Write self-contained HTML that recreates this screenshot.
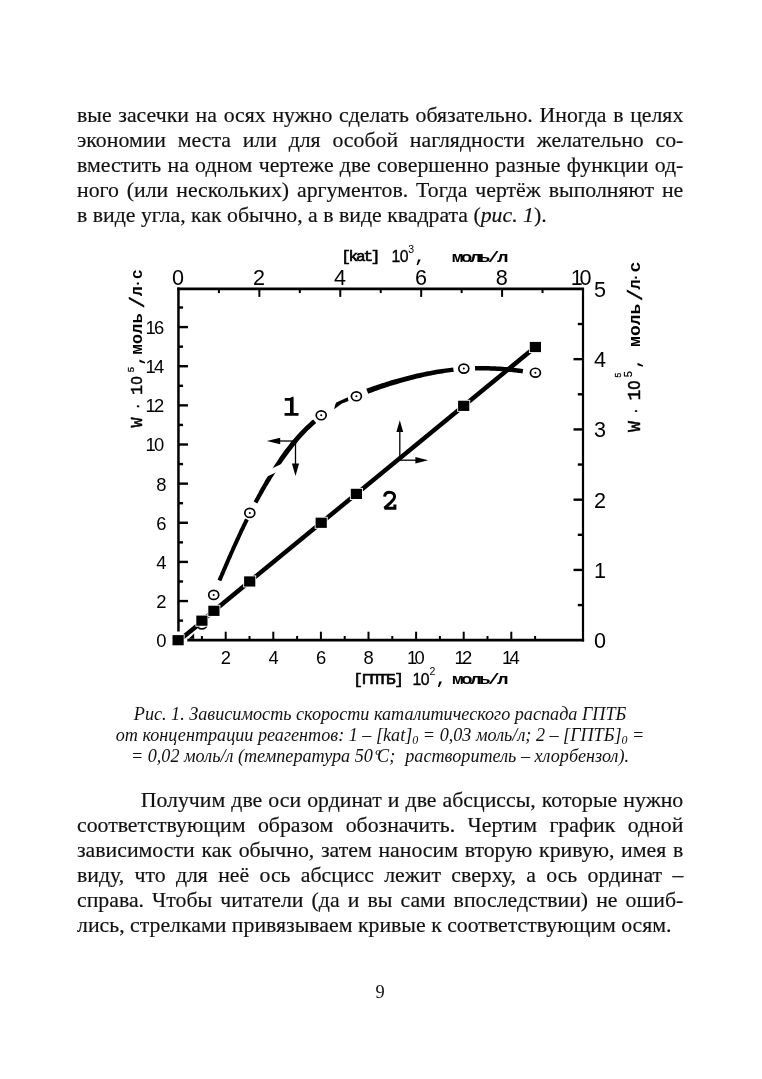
<!DOCTYPE html>
<html lang="ru">
<head>
<meta charset="utf-8">
<title>page 9</title>
<style>
html,body{margin:0;padding:0;background:#fff;}
body>*{will-change:transform;}
body{width:762px;height:1079px;position:relative;overflow:hidden;font-family:"Liberation Serif",serif;color:#111;}
.p{position:absolute;left:76.8px;width:606.3px;-webkit-text-stroke:0.18px #111;font-size:21.8px;line-height:25.07px;}
.p div{height:25.07px;white-space:nowrap;text-align:justify;text-align-last:justify;}
.p div.l{text-align-last:left;}
.cap{position:absolute;left:60px;width:640px;font-size:18.17px;line-height:20.9px;font-style:italic;text-align:center;}
.cap div{height:20.9px;white-space:nowrap;}
.cap sub{font-size:12px;vertical-align:baseline;position:relative;top:3px;}
.pn{position:absolute;left:340px;width:80px;text-align:center;font-size:18.4px;line-height:22px;top:980.5px;}
svg{position:absolute;left:0;top:0;}
</style>
</head>
<body>
<div class="p" style="top:103.0px">
<div>вые засечки на осях нужно сделать обязательно. Иногда в целях</div>
<div>экономии места или для особой наглядности желательно со-</div>
<div>вместить на одном чертеже две совершенно разные функции од-</div>
<div>ного (или нескольких) аргументов. Тогда чертёж выполняют не</div>
<div class="l">в виде угла, как обычно, а в виде квадрата (<i>рис. 1</i>).</div>
</div>

<svg id="chart" width="762" height="1079" viewBox="0 0 762 1079">
<g fill="none" stroke="#000" stroke-linecap="butt">
<path stroke-width="2.5" d="M178.45 631.60 V287.55"/>
<path stroke-width="2.7" d="M177.20 288.90 H584.10"/>
<path stroke-width="2.2" d="M583.00 288.90 V641.60"/>
<path stroke-width="2.8" d="M584.10 640.20 H187.30"/>
</g>
<g stroke="#000" stroke-width="2.4">
<path d="M178.45 620.63h4.60"/>
<path d="M178.45 601.06h9.50"/>
<path d="M178.45 581.49h4.60"/>
<path d="M178.45 561.92h9.50"/>
<path d="M178.45 542.35h4.60"/>
<path d="M178.45 522.78h9.50"/>
<path d="M178.45 503.21h4.60"/>
<path d="M178.45 483.64h9.50"/>
<path d="M178.45 464.07h4.60"/>
<path d="M178.45 444.50h9.50"/>
<path d="M178.45 424.93h4.60"/>
<path d="M178.45 405.36h9.50"/>
<path d="M178.45 385.79h4.60"/>
<path d="M178.45 366.22h9.50"/>
<path d="M178.45 346.65h4.60"/>
<path d="M178.45 327.08h9.50"/>
<path d="M178.45 307.51h4.60"/>
<path d="M583.00 605.07h-5.20"/>
<path d="M583.00 569.94h-9.50"/>
<path d="M583.00 534.81h-5.20"/>
<path d="M583.00 499.68h-9.50"/>
<path d="M583.00 464.55h-5.20"/>
<path d="M583.00 429.42h-9.50"/>
<path d="M583.00 394.29h-5.20"/>
<path d="M583.00 359.16h-9.50"/>
<path d="M583.00 324.03h-5.20"/>
</g>
<g stroke="#000" stroke-width="2.0">
<path d="M201.90 640.20v-4.20"/>
<path d="M225.70 640.20v-8.50"/>
<path d="M249.50 640.20v-4.20"/>
<path d="M273.30 640.20v-8.50"/>
<path d="M297.10 640.20v-4.20"/>
<path d="M320.90 640.20v-8.50"/>
<path d="M344.70 640.20v-4.20"/>
<path d="M368.50 640.20v-8.50"/>
<path d="M392.30 640.20v-4.20"/>
<path d="M416.10 640.20v-8.50"/>
<path d="M439.90 640.20v-4.20"/>
<path d="M463.70 640.20v-8.50"/>
<path d="M487.50 640.20v-4.20"/>
<path d="M511.30 640.20v-8.50"/>
<path d="M535.10 640.20v-4.20"/>
<path d="M218.90 288.90v4.20"/>
<path d="M259.36 288.90v8.00"/>
<path d="M299.81 288.90v4.20"/>
<path d="M340.27 288.90v8.00"/>
<path d="M380.72 288.90v4.20"/>
<path d="M421.18 288.90v8.00"/>
<path d="M461.63 288.90v4.20"/>
<path d="M502.09 288.90v8.00"/>
<path d="M542.54 288.90v4.20"/>
</g>
<g font-family="'Liberation Sans',sans-serif" fill="#000">
<g font-size="18.4" text-anchor="start" letter-spacing="-1.7">
<text x="156.2" y="647.1">0</text>
<text x="156.2" y="608.0">2</text>
<text x="156.2" y="568.8">4</text>
<text x="156.2" y="529.7">6</text>
<text x="156.2" y="490.5">8</text>
<text x="145.5" y="451.4">10</text>
<text x="145.5" y="412.3">12</text>
<text x="145.5" y="373.1">14</text>
<text x="145.5" y="334.0">16</text>
</g>
<g font-size="18.4" text-anchor="start" letter-spacing="-2.7">
<text x="220.8" y="663.5">2</text>
<text x="268.4" y="663.5">4</text>
<text x="316.0" y="663.5">6</text>
<text x="363.6" y="663.5">8</text>
<text x="406.9" y="663.5">10</text>
<text x="454.5" y="663.5">12</text>
<text x="502.1" y="663.5">14</text>
</g>
<g font-size="21.6" text-anchor="start" letter-spacing="-3.2">
<text x="172.1" y="285.0">0</text>
<text x="253.1" y="285.0">2</text>
<text x="334.0" y="285.0">4</text>
<text x="414.9" y="285.0">6</text>
<text x="495.8" y="285.0">8</text>
<text x="570.8" y="285.0">10</text>
</g>
<g font-size="21.6" text-anchor="start">
<text x="594.1" y="648.1">0</text>
<text x="594.1" y="577.8">1</text>
<text x="594.1" y="507.6">2</text>
<text x="594.1" y="437.3">3</text>
<text x="594.1" y="367.1">4</text>
<text x="594.1" y="296.8">5</text>
</g>
</g>
<path fill="#000" d="M221.3 581.3 L221.8 580.0 L222.4 578.7 L223.0 577.3 L223.5 576.0 L224.1 574.7 L224.7 573.4 L225.2 572.0 L225.8 570.7 L226.4 569.4 L227.0 568.0 L227.5 566.7 L228.1 565.4 L228.7 564.0 L229.3 562.7 L229.8 561.4 L230.4 560.1 L231.0 558.7 L231.6 557.4 L232.2 556.1 L232.7 554.8 L233.3 553.4 L233.9 552.1 L234.5 550.8 L235.1 549.5 L235.7 548.1 L236.3 546.8 L236.9 545.5 L237.5 544.2 L238.1 542.9 L238.7 541.5 L239.3 540.2 L239.9 538.9 L240.5 537.6 L241.1 536.3 L241.7 535.0 L242.3 533.7 L242.9 532.3 L243.5 531.0 L244.2 529.7 L244.8 528.4 L245.4 527.1 L246.0 525.8 L246.7 524.5 L247.3 523.2 L247.9 521.9 L248.6 520.6 L248.8 520.2 L245.2 518.4 L245.0 518.8 L244.3 520.1 L243.7 521.4 L243.1 522.8 L242.4 524.1 L241.8 525.4 L241.2 526.7 L240.5 528.0 L239.9 529.3 L239.3 530.6 L238.7 532.0 L238.1 533.3 L237.5 534.6 L236.9 535.9 L236.2 537.2 L235.6 538.6 L235.0 539.9 L234.4 541.2 L233.8 542.5 L233.2 543.9 L232.6 545.2 L232.0 546.5 L231.4 547.8 L230.9 549.2 L230.3 550.5 L229.7 551.8 L229.1 553.1 L228.5 554.5 L227.9 555.8 L227.3 557.1 L226.7 558.5 L226.2 559.8 L225.6 561.1 L225.0 562.5 L224.4 563.8 L223.9 565.1 L223.3 566.5 L222.7 567.8 L222.1 569.1 L221.6 570.4 L221.0 571.8 L220.4 573.1 L219.9 574.4 L219.3 575.8 L218.7 577.1 L218.1 578.4 L217.6 579.8Z"/>
<path fill="#000" d="M257.4 503.4 L258.5 501.3 L259.7 499.2 L260.9 497.1 L262.0 495.0 L263.2 492.9 L264.4 490.8 L265.6 488.7 L266.8 486.6 L268.1 484.5 L269.3 482.4 L270.6 480.4 L271.8 478.3 L273.1 476.3 L274.4 474.2 L275.7 472.2 L277.0 470.2 L278.3 468.1 L279.7 466.1 L281.0 464.1 L282.4 462.1 L283.7 460.1 L285.1 458.2 L286.5 456.2 L288.0 454.3 L289.4 452.3 L290.8 450.4 L292.3 448.5 L293.8 446.6 L295.3 444.8 L296.8 442.9 L298.3 441.1 L299.8 439.3 L301.4 437.5 L303.0 435.8 L304.6 434.0 L306.3 432.3 L307.9 430.6 L309.6 429.0 L311.3 427.4 L313.0 425.8 L314.8 424.2 L316.2 423.0 L313.2 419.4 L311.7 420.6 L309.9 422.2 L308.1 423.9 L306.3 425.5 L304.5 427.2 L302.8 428.9 L301.1 430.7 L299.4 432.4 L297.8 434.2 L296.2 436.1 L294.5 437.9 L293.0 439.8 L291.4 441.6 L289.9 443.5 L288.4 445.5 L286.9 447.4 L285.4 449.3 L283.9 451.3 L282.5 453.3 L281.1 455.3 L279.7 457.3 L278.3 459.4 L277.0 461.4 L275.6 463.5 L274.3 465.5 L273.0 467.6 L271.7 469.7 L270.4 471.8 L269.2 473.8 L267.9 475.9 L266.7 478.0 L265.4 480.1 L264.2 482.3 L263.0 484.4 L261.8 486.5 L260.6 488.6 L259.4 490.7 L258.3 492.9 L257.1 495.0 L256.0 497.2 L254.8 499.3 L253.7 501.5Z"/>
<path fill="#000" d="M368.2 393.8 L370.0 393.1 L371.8 392.4 L373.6 391.7 L375.4 391.1 L377.2 390.4 L379.1 389.8 L380.9 389.1 L382.7 388.5 L384.6 387.9 L386.4 387.3 L388.2 386.7 L390.1 386.1 L391.9 385.6 L393.8 385.0 L395.6 384.4 L397.5 383.9 L399.4 383.3 L401.2 382.8 L403.1 382.3 L404.9 381.7 L406.8 381.2 L408.7 380.7 L410.5 380.2 L412.4 379.7 L414.3 379.2 L416.1 378.8 L418.0 378.3 L419.9 377.9 L421.7 377.4 L423.6 377.0 L425.5 376.6 L427.3 376.2 L429.2 375.8 L431.1 375.4 L433.0 375.0 L434.8 374.7 L436.7 374.3 L438.6 374.0 L440.5 373.7 L442.4 373.4 L444.2 373.1 L446.1 372.8 L448.0 372.6 L449.9 372.3 L451.8 372.1 L453.7 371.9 L453.2 367.5 L451.3 367.7 L449.4 367.9 L447.5 368.2 L445.5 368.4 L443.6 368.7 L441.7 368.9 L439.8 369.2 L437.9 369.5 L435.9 369.8 L434.0 370.2 L432.1 370.5 L430.2 370.9 L428.3 371.2 L426.4 371.6 L424.5 372.0 L422.6 372.4 L420.7 372.8 L418.8 373.2 L416.9 373.6 L415.0 374.1 L413.1 374.5 L411.2 375.0 L409.3 375.5 L407.4 375.9 L405.5 376.4 L403.6 376.9 L401.8 377.4 L399.9 377.9 L398.0 378.5 L396.1 379.0 L394.2 379.5 L392.3 380.1 L390.4 380.6 L388.6 381.2 L386.7 381.8 L384.8 382.4 L382.9 383.0 L381.1 383.6 L379.2 384.2 L377.3 384.8 L375.5 385.5 L373.6 386.1 L371.8 386.8 L369.9 387.5 L368.1 388.1 L366.3 388.8Z"/>
<path fill="#000" d="M475.1 370.6 L476.1 370.6 L477.0 370.6 L478.0 370.5 L478.9 370.5 L479.9 370.5 L480.8 370.5 L481.8 370.5 L482.7 370.5 L483.7 370.5 L484.7 370.5 L485.6 370.5 L486.6 370.6 L487.5 370.6 L488.5 370.6 L489.4 370.6 L490.4 370.7 L491.4 370.7 L492.3 370.7 L493.3 370.8 L494.2 370.8 L495.2 370.8 L496.2 370.9 L497.1 370.9 L498.1 371.0 L499.0 371.1 L500.0 371.1 L500.9 371.2 L501.9 371.2 L502.9 371.3 L503.8 371.4 L504.8 371.5 L505.7 371.5 L506.7 371.6 L507.7 371.7 L508.6 371.8 L509.6 371.9 L510.5 372.0 L511.5 372.1 L512.5 372.2 L513.4 372.3 L514.4 372.4 L515.3 372.5 L516.3 372.6 L517.3 372.7 L518.2 372.9 L519.2 373.0 L520.1 373.1 L521.1 373.2 L522.1 373.4 L522.5 373.4 L523.2 369.0 L522.7 368.9 L521.7 368.8 L520.7 368.7 L519.8 368.5 L518.8 368.4 L517.8 368.3 L516.8 368.2 L515.9 368.0 L514.9 367.9 L513.9 367.8 L512.9 367.7 L512.0 367.6 L511.0 367.5 L510.0 367.4 L509.0 367.3 L508.1 367.2 L507.1 367.1 L506.1 367.1 L505.1 367.0 L504.2 366.9 L503.2 366.8 L502.2 366.8 L501.3 366.7 L500.3 366.6 L499.3 366.6 L498.3 366.5 L497.4 366.4 L496.4 366.4 L495.4 366.3 L494.4 366.3 L493.5 366.3 L492.5 366.2 L491.5 366.2 L490.5 366.2 L489.6 366.1 L488.6 366.1 L487.6 366.1 L486.7 366.1 L485.7 366.0 L484.7 366.0 L483.7 366.0 L482.8 366.0 L481.8 366.0 L480.8 366.0 L479.8 366.0 L478.9 366.0 L477.9 366.0 L476.9 366.1 L476.0 366.1 L475.0 366.1Z"/>
<path d="M265.1 477.4 L277.9 471.6 L284.7 462.4 L270.7 469.0Z" fill="#fff"/>
<path d="M336.2 402.6 L347.8 397.3 L348.5 401.0 L342 403.6 L334.1 409.2 L335.2 404.7Z" fill="#000"/>
<path d="M188.6 638.8 L194.2 633.6 L194.2 638.8Z" fill="#000"/>
<ellipse cx="201.9" cy="624.5" rx="5.0" ry="4.45" fill="#fff" stroke="#000" stroke-width="1.7"/>
<circle cx="201.9" cy="624.5" r="1.0" fill="#000"/>
<path d="M201.90 620.67 L535.40 347.00" stroke="#000" stroke-width="4.5" fill="none"/>
<path d="M178.80 640.70 L202.60 621.17" stroke="#000" stroke-width="4.5" fill="none"/>
<rect x="171.60" y="634.20" width="13" height="12" fill="#fff"/>
<rect x="195.40" y="614.67" width="13" height="12" fill="#fff"/>
<rect x="207.40" y="604.82" width="13" height="12" fill="#fff"/>
<rect x="243.20" y="575.45" width="13" height="12" fill="#fff"/>
<rect x="314.70" y="516.77" width="13" height="12" fill="#fff"/>
<rect x="349.90" y="487.89" width="13" height="12" fill="#fff"/>
<rect x="457.20" y="399.84" width="13" height="12" fill="#fff"/>
<rect x="528.90" y="341.00" width="13" height="12" fill="#fff"/>
<rect x="172.50" y="635.10" width="11.2" height="10.2" fill="#000"/>
<rect x="196.30" y="615.57" width="11.2" height="10.2" fill="#000"/>
<rect x="208.30" y="605.72" width="11.2" height="10.2" fill="#000"/>
<rect x="244.10" y="576.35" width="11.2" height="10.2" fill="#000"/>
<rect x="315.60" y="517.67" width="11.2" height="10.2" fill="#000"/>
<rect x="350.80" y="488.79" width="11.2" height="10.2" fill="#000"/>
<rect x="458.10" y="400.74" width="11.2" height="10.2" fill="#000"/>
<rect x="529.80" y="341.90" width="11.2" height="10.2" fill="#000"/>
<ellipse cx="213.7" cy="594.9" rx="5.0" ry="4.45" fill="#fff" stroke="#000" stroke-width="1.7"/>
<circle cx="213.7" cy="594.9" r="1.0" fill="#000"/>
<ellipse cx="249.8" cy="512.9" rx="5.0" ry="4.45" fill="#fff" stroke="#000" stroke-width="1.7"/>
<circle cx="249.8" cy="512.9" r="1.0" fill="#000"/>
<ellipse cx="321.2" cy="415.3" rx="5.0" ry="4.45" fill="#fff" stroke="#000" stroke-width="1.7"/>
<circle cx="321.2" cy="415.3" r="1.0" fill="#000"/>
<ellipse cx="356.4" cy="396.3" rx="5.0" ry="4.45" fill="#fff" stroke="#000" stroke-width="1.7"/>
<circle cx="356.4" cy="396.3" r="1.0" fill="#000"/>
<ellipse cx="463.8" cy="368.6" rx="5.0" ry="4.45" fill="#fff" stroke="#000" stroke-width="1.7"/>
<circle cx="463.8" cy="368.6" r="1.0" fill="#000"/>
<ellipse cx="535.4" cy="372.7" rx="5.0" ry="4.45" fill="#fff" stroke="#000" stroke-width="1.7"/>
<circle cx="535.4" cy="372.7" r="1.0" fill="#000"/>
<g stroke="#000" stroke-width="1.3" fill="#000">
<path d="M295.5 441 H275" fill="none"/><path d="M266.8 441 L280.2 437.8 L280.2 444.2Z" stroke="none"/>
<path d="M295.5 441 V466" fill="none"/><path d="M295.5 476 L291.9 463.6 L299.1 463.6Z" stroke="none"/>
<path d="M399.8 460.2 V430" fill="none"/><path d="M399.8 420.3 L396.4 432 L403.2 432Z" stroke="none"/>
<path d="M399.8 460.2 H418" fill="none"/><path d="M428.2 460.2 L415.4 457 L415.4 463.4Z" stroke="none"/>
</g>
<path d="M284.8 397.9 L290 397.9 L292.4 396.8 L293.6 396.8 L293.6 412.9 L298.5 412.9 L298.5 415.8 L284.6 415.8 L284.6 412.9 L290 412.9 L290 400.8 L284.8 400.8Z" fill="#000"/>
<path d="M384.6 496.6 C384.8 493.7 387 492.2 389.5 492.2 C392.5 492.2 394.6 494 394.6 496.6 C394.6 499.4 392.2 501.4 389.5 503.7 L384.6 508.2 L394.9 508.2 L394.9 504.6" fill="none" stroke="#000" stroke-width="3" stroke-linejoin="miter" stroke-miterlimit="2"/>
<g fill="#000">
<text transform="translate(341.2 261.3) scale(1.127 1)" font-size="14.2" font-family="'Liberation Mono',monospace" letter-spacing="-1.95" stroke="#000" stroke-width="0.65">[kat]</text>
<text x="391.6" y="261.7" font-size="15.8" font-family="'Liberation Sans',sans-serif" letter-spacing="-0.6" stroke="#000" stroke-width="0.35">10</text>
<text x="408.3" y="252.8" font-size="10.5" font-family="'Liberation Sans',sans-serif" >3</text>
<text x="414.6" y="261.5" font-size="17" font-family="'Liberation Mono',monospace" font-weight="bold" >,</text>
<text transform="translate(451.8 261.5) scale(1.250 1)" font-size="15.5" font-family="'Liberation Mono',monospace" font-weight="bold" letter-spacing="-2.08" >моль/л</text>
<text transform="translate(353.2 684.0) scale(1.127 1)" font-size="14.2" font-family="'Liberation Mono',monospace" letter-spacing="-1.24" stroke="#000" stroke-width="0.65">[ГПТБ]</text>
<text x="412.5" y="684.5" font-size="15.8" font-family="'Liberation Sans',sans-serif" letter-spacing="-0.6" stroke="#000" stroke-width="0.35">10</text>
<text x="429.4" y="675.4" font-size="10.5" font-family="'Liberation Sans',sans-serif" >2</text>
<text x="435.8" y="684.3" font-size="17" font-family="'Liberation Mono',monospace" font-weight="bold" >,</text>
<text transform="translate(451.9 684.3) scale(1.250 1)" font-size="15.5" font-family="'Liberation Mono',monospace" font-weight="bold" letter-spacing="-2.08" >моль/л</text>
<g transform="translate(141.9 427.3) rotate(-90)">
<text x="-0.3" y="0.0" font-size="16.7" font-family="'Liberation Mono',monospace" stroke="#000" stroke-width="0.45">W</text>
<text x="17.2" y="0.0" font-size="12" font-family="'Liberation Mono',monospace" stroke="#000" stroke-width="0.45">·</text>
<text x="32.3" y="0.0" font-size="16.7" font-family="'Liberation Mono',monospace" stroke="#000" stroke-width="0.45">1</text>
<text transform="translate(42.6 0.0) scale(0.860 1)" font-size="16.7" font-family="'Liberation Mono',monospace" stroke="#000" stroke-width="0.45">O</text>
<text x="55.0" y="-7.9" font-size="9.5" font-family="'Liberation Sans',sans-serif" stroke="#000" stroke-width="0.3">5</text>
<text x="61.8" y="0.0" font-size="16.7" font-family="'Liberation Mono',monospace" font-weight="bold" >,</text>
<text x="72.8" y="0.0" font-size="16.7" font-family="'Liberation Mono',monospace" font-weight="bold" textLength="41.2" lengthAdjust="spacingAndGlyphs" >моль</text>
<text x="118.9" y="2.4" font-size="21" font-family="'Liberation Mono',monospace" stroke="#000" stroke-width="0.45">/</text>
<text x="131.1" y="0.0" font-size="16.7" font-family="'Liberation Mono',monospace" font-weight="bold" >л</text>
<text x="139.6" y="0.0" font-size="14" font-family="'Liberation Mono',monospace" font-weight="bold" >·</text>
<text x="148.1" y="0.0" font-size="16.7" font-family="'Liberation Mono',monospace" font-weight="bold" >с</text>
</g>
<g transform="translate(640 431.8) rotate(-90)">
<text x="-0.2" y="0.0" font-size="18.2" font-family="'Liberation Mono',monospace" stroke="#000" stroke-width="0.45">W</text>
<text x="17.1" y="0.0" font-size="12" font-family="'Liberation Mono',monospace" stroke="#000" stroke-width="0.45">·</text>
<text x="31.2" y="0.0" font-size="18.2" font-family="'Liberation Mono',monospace" stroke="#000" stroke-width="0.45">1</text>
<text transform="translate(42.1 0.0) scale(0.860 1)" font-size="18.2" font-family="'Liberation Mono',monospace" stroke="#000" stroke-width="0.45">O</text>
<text x="54.5" y="-8.5" font-size="11" font-family="'Liberation Sans',sans-serif" stroke="#000" stroke-width="0.3">5</text>
<text x="54.2" y="-19.5" font-size="8.5" font-family="'Liberation Sans',sans-serif" stroke="#000" stroke-width="0.3">5</text>
<text x="63.0" y="0.0" font-size="16.7" font-family="'Liberation Mono',monospace" font-weight="bold" >,</text>
<text x="84.9" y="0.0" font-size="16.7" font-family="'Liberation Mono',monospace" font-weight="bold" textLength="43.2" lengthAdjust="spacingAndGlyphs" >моль</text>
<text x="130.5" y="2.0" font-size="21" font-family="'Liberation Mono',monospace" stroke="#000" stroke-width="0.45">/</text>
<text x="142.1" y="0.0" font-size="16.7" font-family="'Liberation Mono',monospace" font-weight="bold" textLength="10.5" lengthAdjust="spacingAndGlyphs" >л</text>
<text x="150.0" y="0.0" font-size="14" font-family="'Liberation Mono',monospace" font-weight="bold" >·</text>
<text x="159.2" y="0.0" font-size="16.7" font-family="'Liberation Mono',monospace" font-weight="bold" textLength="11.0" lengthAdjust="spacingAndGlyphs" >с</text>
</g>
</g>
</svg>

<div class="cap" style="top:703.6px">
<div>Рис. 1. Зависимость скорости каталитического распада ГПТБ</div>
<div>от концентрации реагентов: 1 – [kat]<sub>0</sub> = 0,03 моль/л; 2 – [ГПТБ]<sub>0</sub> =</div>
<div>= 0,02 моль/л (температура 50<span style="letter-spacing:-3px"> º</span>С;<span style="margin-left:5.5px"></span> растворитель – хлорбензол).</div>
</div>

<div class="p" style="top:788.1px">
<div style="padding-left:63.7px;width:542.6px">Получим две оси ординат и две абсциссы, которые нужно</div>
<div>соответствующим образом обозначить. Чертим график одной</div>
<div>зависимости как обычно, затем наносим вторую кривую, имея в</div>
<div>виду, что для неё ось абсцисс лежит сверху, а ось ординат –</div>
<div>справа. Чтобы читатели (да и вы сами впоследствии) не ошиб-</div>
<div class="l">лись, стрелками привязываем кривые к соответствующим осям.</div>
</div>

<div class="pn">9</div>
</body>
</html>
